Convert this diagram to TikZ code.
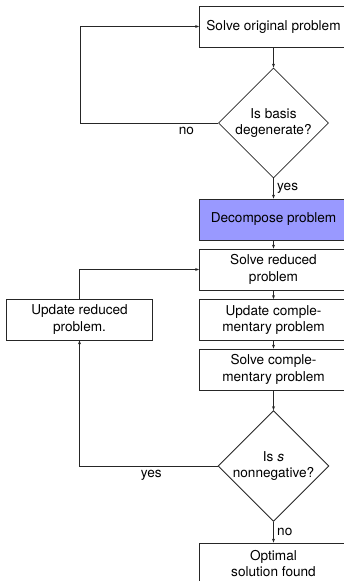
\documentclass[tikz,border=0pt]{standalone}
\usepackage{fontspec}
\setmainfont{TeX Gyre Heros}
\usetikzlibrary{shapes.geometric, arrows.meta}
\definecolor{decomp}{RGB}{153,153,255}

\begin{document}
\begin{tikzpicture}[x = 1pt, y = 1pt, line width = 0.8pt, color = black!85,
		font = \fontsize{13.6}{16.6}\selectfont,
		box/.style = {draw, rectangle, minimum width = 148, minimum height = 41, inner sep = 0pt, align = center, text = black},
		decision/.style = {draw, diamond, aspect = 1, minimum size = 110, inner sep = 0pt, align = center, text = black},
		flow/.style = {-{Stealth[length = 4pt, width = 3pt]}}]
		\useasboundingbox (0, 0) rectangle (344, -581);
		%%%%%%%%%%%%%
		\node[box] (orig) at (273.5, -26.5) {Solve original problem};
		\node[decision] (degen) at (273.5, -123) {Is basis\\degenerate?};
		\node[box, fill = decomp] (decomp) at (273.5, -219.5) {Decompose problem};
		\node[box] (reduced) at (273.5, -269.5) {Solve reduced\\problem};
		\node[box] (upcomp) at (273.5, -320) {Update comple-\\mentary problem};
		\node[box] (solvecomp) at (273.5, -369.5) {Solve comple-\\mentary problem};
		\node[decision] (nonneg) at (273.5, -466) {Is \textit{s}\\nonnegative?};
		\node[box] (optimal) at (273.5, -563.5) {Optimal\\solution found};
		\node[box, minimum width = 146] (upred) at (79.5, -319.5) {Update reduced\\problem.};
		%%%%%%%%%%%%%
		\draw[flow] (orig) to (degen);
		\draw[flow] (degen.west) to node[pos = 0.23, below, text = black] {no} (80, -123) |- (orig.west);
		\draw[flow] (degen) to node[right, text = black] {yes} (decomp);
		\draw[flow] (decomp) to (reduced);
		\draw[flow] (reduced) to (upcomp);
		\draw[flow] (upcomp) to (solvecomp);
		\draw[flow] (solvecomp) to (nonneg);
		\draw[flow] (nonneg.west) to node[pos = 0.48, below, text = black] {yes} (79.5, -466) to (upred.south);
		\draw[flow] (upred.north) |- (reduced.west);
		\draw[flow] (nonneg) to node[right, text = black] {no} (optimal);
\end{tikzpicture}
\end{document}
